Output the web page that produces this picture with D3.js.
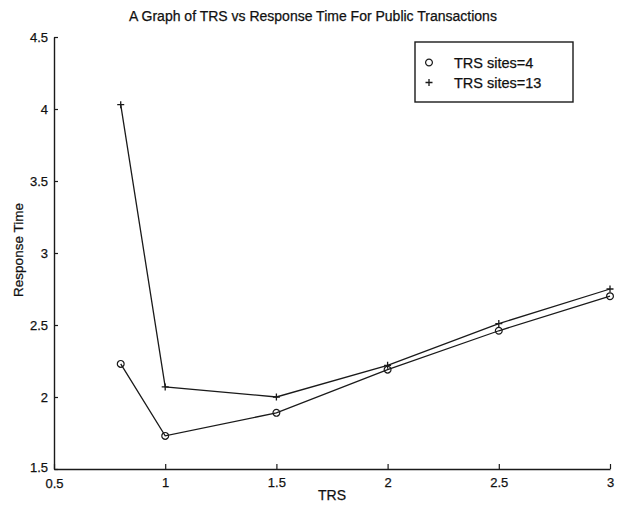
<!DOCTYPE html>
<html>
<head>
<meta charset="utf-8">
<script src="https://cdn.jsdelivr.net/npm/d3@7/dist/d3.min.js"></script>
<style>
  html, body { margin: 0; padding: 0; background: #fff; }
  svg { display: block; }
  text { font-family: "Liberation Sans", Arial, Helvetica, sans-serif; fill: #111; stroke: #111; stroke-width: 0.25px; }
</style>
</head>
<body>
<svg id="chart" width="621" height="507"></svg>
<script>
// TRS values on the x axis
const trs = [0.8, 1, 1.5, 2, 2.5, 3];
// Response time, 4 TRS sites (circles)
const sites4 = [2.23, 1.73, 1.89, 2.19, 2.46, 2.70];
// Response time, 13 TRS sites (plus signs)
const sites13 = [4.03, 2.07, 2.00, 2.22, 2.51, 2.75];
const xTicks = [0.5, 1, 1.5, 2, 2.5, 3];
const yTicks = [1.5, 2, 2.5, 3, 3.5, 4, 4.5];
const seriesNames = ["TRS sites=4", "TRS sites=13"];

const svg = d3.select("#chart");
const ink = "#1a1a1a";

const x = d3.scaleLinear().domain([0.5, 3]).range([54, 610]);
const y = d3.scaleLinear().domain([1.5, 4.5]).range([469, 37]);

// Title
svg.append("text")
  .attr("x", 313).attr("y", 21)
  .attr("text-anchor", "middle")
  .attr("font-size", 14)
  .text("A Graph of TRS vs Response Time For Public Transactions");

// Axes with inward ticks
const fmt = d => String(d);
const xAxis = svg.append("g")
  .attr("transform", `translate(0,${y(1.5)})`)
  .call(d3.axisBottom(x).tickValues(xTicks).tickFormat(fmt).tickSizeInner(-5).tickSizeOuter(0).tickPadding(9));
const yAxis = svg.append("g")
  .attr("transform", `translate(${x(0.5)},0)`)
  .call(d3.axisLeft(y).tickValues(yTicks).tickFormat(fmt).tickSizeInner(-4).tickSizeOuter(0).tickPadding(6));

[xAxis, yAxis].forEach(g => {
  g.select(".domain").attr("stroke", ink).attr("stroke-width", 1.4);
  g.selectAll(".tick line").attr("stroke", ink).attr("stroke-width", 1.2);
  g.selectAll(".tick text").attr("font-size", 13).attr("fill", "#111")
    .attr("font-family", "'Liberation Sans', Arial, sans-serif");
});
// 1.5 and 0.5 share the corner: keep them stacked
yAxis.selectAll(".tick text").filter(d => d === 1.5).attr("dy", "0.2em");
xAxis.selectAll(".tick text").filter(d => d === 0.5).attr("dy", "0.75em");

// Axis titles
svg.append("text")
  .attr("x", x(1.75)).attr("y", 500)
  .attr("text-anchor", "middle")
  .attr("font-size", 14)
  .text("TRS");
svg.append("text")
  .attr("transform", "translate(23,250) rotate(-90)")
  .attr("text-anchor", "middle")
  .attr("font-size", 13.5)
  .text("Response Time");

// Lines
const line = d3.line().x((d, i) => x(trs[i])).y(d => y(d));
[sites4, sites13].forEach(s => {
  svg.append("path")
    .datum(s)
    .attr("d", line)
    .attr("fill", "none")
    .attr("stroke", ink)
    .attr("stroke-width", 1.3);
});

// Markers
const circles = d3.symbol().type(d3.symbolCircle).size(Math.PI * 3.4 * 3.4);
svg.append("g").selectAll("path")
  .data(sites4)
  .join("path")
  .attr("transform", (d, i) => `translate(${x(trs[i])},${y(d)})`)
  .attr("d", circles())
  .attr("fill", "none")
  .attr("stroke", ink)
  .attr("stroke-width", 1.2);

const plusPath = r => `M${-r},0H${r}M0,${-r}V${r}`;
svg.append("g").selectAll("path")
  .data(sites13)
  .join("path")
  .attr("transform", (d, i) => `translate(${x(trs[i])},${y(d)})`)
  .attr("d", plusPath(3.5))
  .attr("fill", "none")
  .attr("stroke", ink)
  .attr("stroke-width", 1.3);

// Legend
const legend = svg.append("g");
legend.append("rect")
  .attr("x", 415).attr("y", 42)
  .attr("width", 158).attr("height", 60)
  .attr("fill", "#fff")
  .attr("stroke", ink)
  .attr("stroke-width", 1.4);
const legendRows = [
  { name: seriesNames[0], mark: "circle" },
  { name: seriesNames[1], mark: "plus" }
];
legendRows.forEach((row, i) => {
  const cy = 62.5 + i * 20;
  if (row.mark === "circle") {
    legend.append("path")
      .attr("transform", `translate(429,${cy})`)
      .attr("d", circles())
      .attr("fill", "none").attr("stroke", ink).attr("stroke-width", 1.2);
  } else {
    legend.append("path")
      .attr("transform", `translate(429,${cy})`)
      .attr("d", plusPath(3.5))
      .attr("fill", "none").attr("stroke", ink).attr("stroke-width", 1.3);
  }
  legend.append("text")
    .attr("x", 454).attr("y", cy + 5)
    .attr("font-size", 14.5)
    .text(row.name);
});
</script>
</body>
</html>
